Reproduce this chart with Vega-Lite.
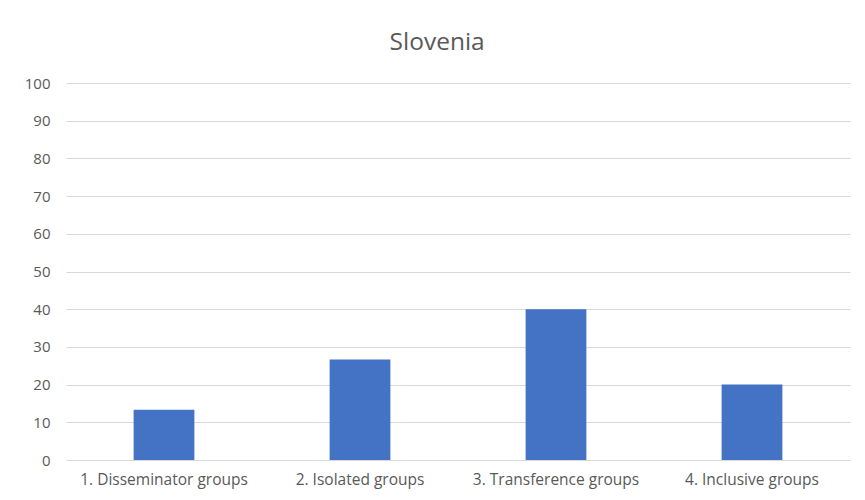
{
  "$schema": "https://vega.github.io/schema/vega-lite/v6.json",
  "width": 784,
  "height": 377,
  "autosize": {"type": "none"},
  "padding": {"left": 66, "top": 83, "right": 15, "bottom": 40},
  "background": "white",
  "title": {
    "text": "Slovenia",
    "font": "Open Sans",
    "fontSize": 24.5,
    "fontWeight": "normal",
    "color": "#595959",
    "anchor": "middle",
    "frame": "bounds",
    "offset": 21
  },
  "data": {
    "values": [
      {"group": "1. Disseminator groups", "value": 13.33},
      {"group": "2. Isolated groups", "value": 26.67},
      {"group": "3. Transference groups", "value": 40},
      {"group": "4. Inclusive groups", "value": 20}
    ]
  },
  "mark": {"type": "bar", "color": "#4472C4", "width": {"band": 0.31}},
  "encoding": {
    "x": {
      "field": "group",
      "type": "nominal",
      "sort": null,
      "scale": {"paddingInner": 0, "paddingOuter": 0},
      "axis": {
        "title": null,
        "labelAngle": 0,
        "labelFont": "Open Sans",
        "labelFontSize": 15.5,
        "labelColor": "#595959",
        "labelPadding": 12,
        "ticks": false,
        "domain": false,
        "grid": false
      }
    },
    "y": {
      "field": "value",
      "type": "quantitative",
      "scale": {"domain": [0, 100], "nice": false},
      "axis": {
        "title": null,
        "values": [0, 10, 20, 30, 40, 50, 60, 70, 80, 90, 100],
        "labelFont": "Open Sans",
        "labelFontSize": 15,
        "labelColor": "#595959",
        "labelPadding": 16,
        "ticks": false,
        "domain": false,
        "grid": true,
        "gridColor": "#d9d9d9",
        "gridWidth": 1
      }
    }
  },
  "config": {"view": {"stroke": null}}
}
